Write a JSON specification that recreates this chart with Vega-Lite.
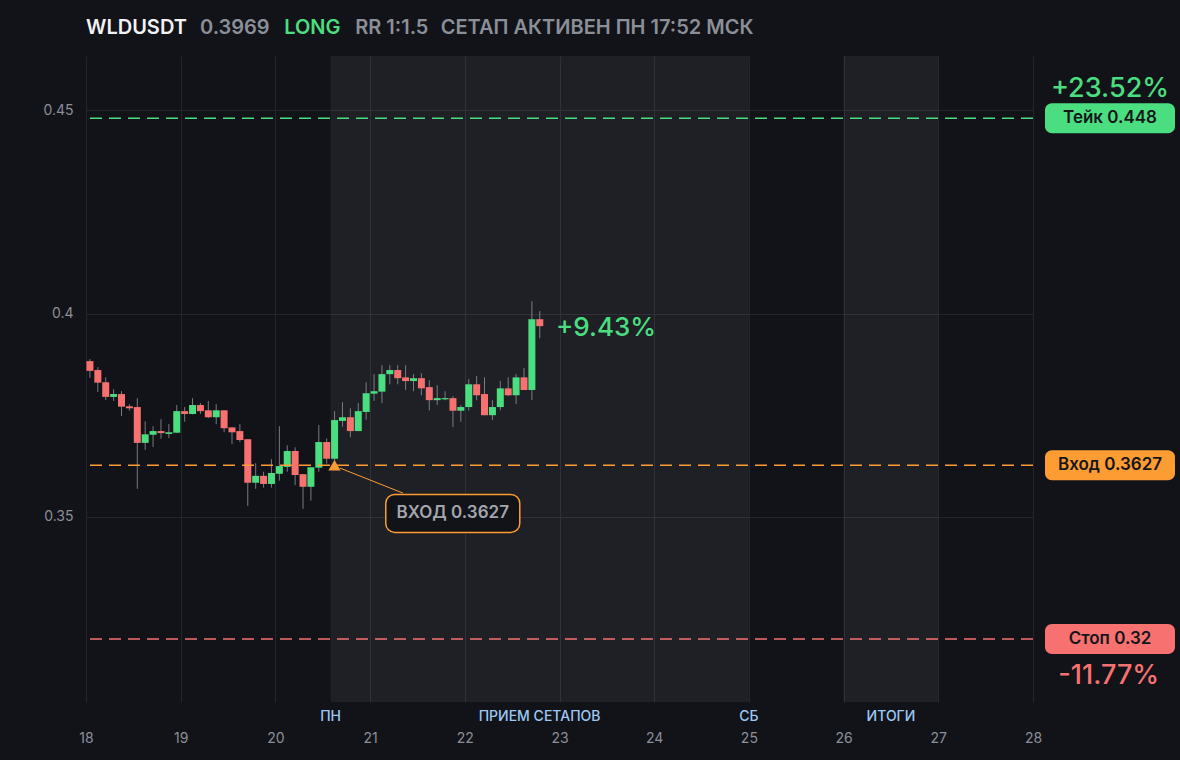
{
  "$schema": "https://vega.github.io/schema/vega-lite/v6.json",
  "width": 947,
  "height": 646,
  "autosize": {"type": "none"},
  "padding": {"left": 86, "top": 56, "right": 147, "bottom": 58},
  "background": "#121318",
  "config": {
    "view": {"stroke": null},
    "font": "Inter",
    "text": {"font": "Inter"},
    "scale": {"continuousPadding": 0},
    "axis": {"grid": true, "gridColor": "#25262b", "gridWidth": 1, "ticks": false, "domain": false, "labelColor": "#8b8f98", "labelFontSize": 14, "labelFont": "Inter"},
    "axisX": {"labelPadding": 29, "labelFlush": false},
    "axisY": {"labelPadding": 13}
  },
  "data": {"values": [{"note": "annotation"}]},
  "datasets": {
    "candles": [
      {"t": 18.0417, "o": 0.3883, "h": 0.3888, "l": 0.3842, "c": 0.3859},
      {"t": 18.125, "o": 0.3861, "h": 0.3868, "l": 0.3807, "c": 0.3830},
      {"t": 18.2083, "o": 0.3831, "h": 0.3843, "l": 0.3787, "c": 0.3795},
      {"t": 18.2917, "o": 0.3795, "h": 0.3814, "l": 0.3785, "c": 0.3802},
      {"t": 18.375, "o": 0.3802, "h": 0.3809, "l": 0.3748, "c": 0.3771},
      {"t": 18.4583, "o": 0.3772, "h": 0.3777, "l": 0.3761, "c": 0.3767},
      {"t": 18.5417, "o": 0.3770, "h": 0.3792, "l": 0.3569, "c": 0.3682},
      {"t": 18.625, "o": 0.3682, "h": 0.3735, "l": 0.3665, "c": 0.3703},
      {"t": 18.7083, "o": 0.3702, "h": 0.3723, "l": 0.3672, "c": 0.3711},
      {"t": 18.7917, "o": 0.3711, "h": 0.3740, "l": 0.3692, "c": 0.3706},
      {"t": 18.875, "o": 0.3704, "h": 0.3728, "l": 0.3694, "c": 0.3708},
      {"t": 18.9583, "o": 0.3707, "h": 0.3775, "l": 0.3706, "c": 0.3760},
      {"t": 19.0417, "o": 0.3760, "h": 0.3770, "l": 0.3734, "c": 0.3753},
      {"t": 19.125, "o": 0.3753, "h": 0.3792, "l": 0.3752, "c": 0.3775},
      {"t": 19.2083, "o": 0.3775, "h": 0.3780, "l": 0.3753, "c": 0.3760},
      {"t": 19.2917, "o": 0.3762, "h": 0.3785, "l": 0.3743, "c": 0.3745},
      {"t": 19.375, "o": 0.3745, "h": 0.3777, "l": 0.3728, "c": 0.3762},
      {"t": 19.4583, "o": 0.3762, "h": 0.3762, "l": 0.3708, "c": 0.3718},
      {"t": 19.5417, "o": 0.3720, "h": 0.3720, "l": 0.3679, "c": 0.3708},
      {"t": 19.625, "o": 0.3711, "h": 0.3728, "l": 0.3684, "c": 0.3689},
      {"t": 19.7083, "o": 0.3691, "h": 0.3691, "l": 0.3527, "c": 0.3584},
      {"t": 19.7917, "o": 0.3584, "h": 0.3632, "l": 0.3569, "c": 0.3601},
      {"t": 19.875, "o": 0.3601, "h": 0.3611, "l": 0.3572, "c": 0.3581},
      {"t": 19.9583, "o": 0.3581, "h": 0.3642, "l": 0.3572, "c": 0.3608},
      {"t": 20.0417, "o": 0.3606, "h": 0.3723, "l": 0.3589, "c": 0.3625},
      {"t": 20.125, "o": 0.3623, "h": 0.3676, "l": 0.3611, "c": 0.3662},
      {"t": 20.2083, "o": 0.3662, "h": 0.3671, "l": 0.3578, "c": 0.3603},
      {"t": 20.2917, "o": 0.3605, "h": 0.3605, "l": 0.3520, "c": 0.3574},
      {"t": 20.375, "o": 0.3574, "h": 0.3622, "l": 0.3540, "c": 0.3622},
      {"t": 20.4583, "o": 0.3621, "h": 0.3726, "l": 0.3611, "c": 0.3684},
      {"t": 20.5417, "o": 0.3684, "h": 0.3693, "l": 0.3631, "c": 0.3643},
      {"t": 20.625, "o": 0.3643, "h": 0.3760, "l": 0.3631, "c": 0.3738},
      {"t": 20.7083, "o": 0.3736, "h": 0.3782, "l": 0.3722, "c": 0.3745},
      {"t": 20.7917, "o": 0.3745, "h": 0.3767, "l": 0.3696, "c": 0.3711},
      {"t": 20.875, "o": 0.3711, "h": 0.3780, "l": 0.3711, "c": 0.3760},
      {"t": 20.9583, "o": 0.3758, "h": 0.3831, "l": 0.3739, "c": 0.3804},
      {"t": 21.0417, "o": 0.3803, "h": 0.3851, "l": 0.3785, "c": 0.3809},
      {"t": 21.125, "o": 0.3808, "h": 0.3873, "l": 0.3780, "c": 0.3851},
      {"t": 21.2083, "o": 0.3851, "h": 0.3873, "l": 0.3826, "c": 0.3861},
      {"t": 21.2917, "o": 0.3861, "h": 0.3873, "l": 0.3826, "c": 0.3841},
      {"t": 21.375, "o": 0.3843, "h": 0.3873, "l": 0.3812, "c": 0.3834},
      {"t": 21.4583, "o": 0.3834, "h": 0.3851, "l": 0.3809, "c": 0.3841},
      {"t": 21.5417, "o": 0.3841, "h": 0.3853, "l": 0.3799, "c": 0.3816},
      {"t": 21.625, "o": 0.3819, "h": 0.3836, "l": 0.3762, "c": 0.3787},
      {"t": 21.7083, "o": 0.3787, "h": 0.3824, "l": 0.3775, "c": 0.3792},
      {"t": 21.7917, "o": 0.3789, "h": 0.3809, "l": 0.3787, "c": 0.3792},
      {"t": 21.875, "o": 0.3792, "h": 0.3797, "l": 0.3721, "c": 0.3761},
      {"t": 21.9583, "o": 0.3761, "h": 0.3775, "l": 0.3734, "c": 0.3770},
      {"t": 22.0417, "o": 0.3770, "h": 0.3839, "l": 0.3761, "c": 0.3826},
      {"t": 22.125, "o": 0.3826, "h": 0.3846, "l": 0.3787, "c": 0.3799},
      {"t": 22.2083, "o": 0.3802, "h": 0.3843, "l": 0.3750, "c": 0.3750},
      {"t": 22.2917, "o": 0.3750, "h": 0.3787, "l": 0.3738, "c": 0.3770},
      {"t": 22.375, "o": 0.3770, "h": 0.3834, "l": 0.3762, "c": 0.3816},
      {"t": 22.4583, "o": 0.3816, "h": 0.3843, "l": 0.3797, "c": 0.3799},
      {"t": 22.5417, "o": 0.3799, "h": 0.3851, "l": 0.3777, "c": 0.3843},
      {"t": 22.625, "o": 0.3843, "h": 0.3866, "l": 0.3812, "c": 0.3812},
      {"t": 22.7083, "o": 0.3812, "h": 0.4030, "l": 0.3787, "c": 0.3986},
      {"t": 22.7917, "o": 0.3986, "h": 0.4006, "l": 0.3939, "c": 0.3969}
    ],
    "levels": [
      {"kind": "take", "price": 0.448, "label": "Тейк 0.448", "pct": "+23.52%"},
      {"kind": "entry", "price": 0.3627, "label": "Вход 0.3627", "pct": ""},
      {"kind": "stop", "price": 0.32, "label": "Стоп 0.32", "pct": "-11.77%"}
    ],
    "bands": [
      {"start": 20.583, "end": 25},
      {"start": 26, "end": 27}
    ],
    "events": [
      {"label": "ПН", "t": 20.583},
      {"label": "ПРИЕМ СЕТАПОВ", "t": 22.79},
      {"label": "СБ", "t": 25},
      {"label": "ИТОГИ", "t": 26.5}
    ]
  },
  "layer": [
    {
      "data": {"name": "bands"},
      "mark": {"type": "rect", "color": "#ffffff", "opacity": 0.06},
      "encoding": {
        "x": {"field": "start", "type": "quantitative", "scale": {"domain": [18, 28], "nice": false, "zero": false, "padding": 0}, "axis": {"title": null, "values": [18, 19, 20, 21, 22, 23, 24, 25, 26, 27, 28], "format": "d"}},
        "x2": {"field": "end"}
      }
    },
    {
      "data": {"name": "candles"},
      "mark": {"type": "rule", "stroke": "#8a8d93", "strokeWidth": 1, "opacity": 0.85},
      "encoding": {
        "x": {"field": "t", "type": "quantitative", "scale": {"domain": [18, 28], "nice": false, "zero": false, "padding": 0}, "axis": {"title": null, "values": [18, 19, 20, 21, 22, 23, 24, 25, 26, 27, 28], "format": "d"}},
        "y": {"field": "l", "type": "quantitative", "scale": {"domain": [0.3045, 0.4633], "nice": false, "zero": false}, "axis": {"title": null, "values": [0.35, 0.4, 0.45], "format": "~g"}},
        "y2": {"field": "h"}
      }
    },
    {
      "data": {"name": "candles"},
      "mark": {"type": "bar", "width": 7},
      "encoding": {
        "x": {"field": "t", "type": "quantitative", "scale": {"domain": [18, 28], "nice": false, "zero": false, "padding": 0}, "axis": {"title": null, "values": [18, 19, 20, 21, 22, 23, 24, 25, 26, 27, 28], "format": "d"}},
        "y": {"field": "o", "type": "quantitative", "scale": {"domain": [0.3045, 0.4633], "nice": false, "zero": false}, "axis": {"title": null, "values": [0.35, 0.4, 0.45], "format": "~g"}},
        "y2": {"field": "c"},
        "color": {"condition": {"test": "datum.c >= datum.o", "value": "#4ade80"}, "value": "#f87171"}
      }
    },
    {
      "data": {"name": "levels"},
      "mark": {"type": "rule", "strokeWidth": 1.5, "strokeDash": [12, 7]},
      "encoding": {
        "y": {"field": "price", "type": "quantitative", "scale": {"domain": [0.3045, 0.4633], "nice": false, "zero": false}, "axis": {"title": null, "values": [0.35, 0.4, 0.45], "format": "~g"}},
        "color": {"field": "kind", "type": "nominal", "scale": {"domain": ["take", "entry", "stop"], "range": ["#4ade80", "#fd9c32", "#f87171"]}, "legend": null}
      }
    },
    {
      "data": {"name": "levels"},
      "mark": {"type": "rect", "width": 130, "height": 30, "cornerRadius": 7, "clip": false},
      "encoding": {
        "x": {"datum": 28.813, "type": "quantitative", "scale": {"domain": [18, 28], "nice": false, "zero": false, "padding": 0}, "axis": {"title": null, "values": [18, 19, 20, 21, 22, 23, 24, 25, 26, 27, 28], "format": "d"}},
        "y": {"field": "price", "type": "quantitative", "scale": {"domain": [0.3045, 0.4633], "nice": false, "zero": false}, "axis": {"title": null, "values": [0.35, 0.4, 0.45], "format": "~g"}},
        "color": {"field": "kind", "type": "nominal", "scale": {"domain": ["take", "entry", "stop"], "range": ["#4ade80", "#fd9c32", "#f87171"]}, "legend": null}
      }
    },
    {
      "data": {"name": "levels"},
      "mark": {"type": "text", "fontSize": 17, "fontWeight": 600, "color": "#15161a", "align": "center", "baseline": "middle", "clip": false},
      "encoding": {
        "x": {"datum": 28.813, "type": "quantitative", "scale": {"domain": [18, 28], "nice": false, "zero": false, "padding": 0}, "axis": {"title": null, "values": [18, 19, 20, 21, 22, 23, 24, 25, 26, 27, 28], "format": "d"}},
        "y": {"field": "price", "type": "quantitative", "scale": {"domain": [0.3045, 0.4633], "nice": false, "zero": false}, "axis": {"title": null, "values": [0.35, 0.4, 0.45], "format": "~g"}},
        "text": {"field": "label"}
      }
    },
    {
      "data": {"name": "levels"},
      "transform": [{"filter": "datum.kind === 'take'"}],
      "mark": {"type": "text", "fontSize": 27, "fontWeight": 500, "color": "#4ade80", "align": "center", "baseline": "middle", "dy": -29, "clip": false},
      "encoding": {
        "x": {"datum": 28.813, "type": "quantitative", "scale": {"domain": [18, 28], "nice": false, "zero": false, "padding": 0}, "axis": {"title": null, "values": [18, 19, 20, 21, 22, 23, 24, 25, 26, 27, 28], "format": "d"}},
        "y": {"field": "price", "type": "quantitative", "scale": {"domain": [0.3045, 0.4633], "nice": false, "zero": false}, "axis": {"title": null, "values": [0.35, 0.4, 0.45], "format": "~g"}},
        "text": {"field": "pct"}
      }
    },
    {
      "data": {"name": "levels"},
      "transform": [{"filter": "datum.kind === 'stop'"}],
      "mark": {"type": "text", "fontSize": 27, "fontWeight": 500, "color": "#f87171", "align": "center", "baseline": "middle", "dy": 37, "clip": false},
      "encoding": {
        "x": {"datum": 28.8, "type": "quantitative", "scale": {"domain": [18, 28], "nice": false, "zero": false, "padding": 0}, "axis": {"title": null, "values": [18, 19, 20, 21, 22, 23, 24, 25, 26, 27, 28], "format": "d"}},
        "y": {"field": "price", "type": "quantitative", "scale": {"domain": [0.3045, 0.4633], "nice": false, "zero": false}, "axis": {"title": null, "values": [0.35, 0.4, 0.45], "format": "~g"}},
        "text": {"field": "pct"}
      }
    },
    {
      "mark": {"type": "rule", "stroke": "#fd9c32", "strokeWidth": 1},
      "encoding": {
        "x": {"datum": 20.682, "type": "quantitative", "scale": {"domain": [18, 28], "nice": false, "zero": false, "padding": 0}, "axis": {"title": null, "values": [18, 19, 20, 21, 22, 23, 24, 25, 26, 27, 28], "format": "d"}},
        "y": {"datum": 0.3620, "type": "quantitative", "scale": {"domain": [0.3045, 0.4633], "nice": false, "zero": false}, "axis": {"title": null, "values": [0.35, 0.4, 0.45], "format": "~g"}},
        "x2": {"datum": 21.347},
        "y2": {"datum": 0.35585}
      }
    },
    {
      "mark": {"type": "point", "shape": "triangle-up", "size": 150, "filled": true, "color": "#fd9c32", "opacity": 1},
      "encoding": {
        "x": {"datum": 20.624, "type": "quantitative", "scale": {"domain": [18, 28], "nice": false, "zero": false, "padding": 0}, "axis": {"title": null, "values": [18, 19, 20, 21, 22, 23, 24, 25, 26, 27, 28], "format": "d"}},
        "y": {"datum": 0.3627, "type": "quantitative", "scale": {"domain": [0.3045, 0.4633], "nice": false, "zero": false}, "axis": {"title": null, "values": [0.35, 0.4, 0.45], "format": "~g"}}
      }
    },
    {
      "mark": {"type": "rect", "width": 134, "height": 38, "cornerRadius": 9, "fill": "#121318", "stroke": "#fd9c32", "strokeWidth": 1.5},
      "encoding": {
        "x": {"datum": 21.873, "type": "quantitative", "scale": {"domain": [18, 28], "nice": false, "zero": false, "padding": 0}, "axis": {"title": null, "values": [18, 19, 20, 21, 22, 23, 24, 25, 26, 27, 28], "format": "d"}},
        "y": {"datum": 0.35086, "type": "quantitative", "scale": {"domain": [0.3045, 0.4633], "nice": false, "zero": false}, "axis": {"title": null, "values": [0.35, 0.4, 0.45], "format": "~g"}}
      }
    },
    {
      "mark": {"type": "text", "fontSize": 17, "fontWeight": 600, "color": "#a3a6ad", "align": "center", "baseline": "middle"},
      "encoding": {
        "x": {"datum": 21.873, "type": "quantitative", "scale": {"domain": [18, 28], "nice": false, "zero": false, "padding": 0}, "axis": {"title": null, "values": [18, 19, 20, 21, 22, 23, 24, 25, 26, 27, 28], "format": "d"}},
        "y": {"datum": 0.35086, "type": "quantitative", "scale": {"domain": [0.3045, 0.4633], "nice": false, "zero": false}, "axis": {"title": null, "values": [0.35, 0.4, 0.45], "format": "~g"}},
        "text": {"value": "ВХОД 0.3627"}
      }
    },
    {
      "mark": {"type": "text", "fontSize": 26, "fontWeight": 500, "color": "#4ade80", "align": "left", "baseline": "middle"},
      "encoding": {
        "x": {"datum": 22.963, "type": "quantitative", "scale": {"domain": [18, 28], "nice": false, "zero": false, "padding": 0}, "axis": {"title": null, "values": [18, 19, 20, 21, 22, 23, 24, 25, 26, 27, 28], "format": "d"}},
        "y": {"datum": 0.3965, "type": "quantitative", "scale": {"domain": [0.3045, 0.4633], "nice": false, "zero": false}, "axis": {"title": null, "values": [0.35, 0.4, 0.45], "format": "~g"}},
        "text": {"value": "+9.43%"}
      }
    },
    {
      "data": {"name": "events"},
      "mark": {"type": "text", "fontSize": 14, "fontWeight": 500, "color": "#9cc8f5", "align": "center", "baseline": "middle", "clip": false},
      "encoding": {
        "x": {"field": "t", "type": "quantitative", "scale": {"domain": [18, 28], "nice": false, "zero": false, "padding": 0}, "axis": {"title": null, "values": [18, 19, 20, 21, 22, 23, 24, 25, 26, 27, 28], "format": "d"}},
        "y": {"datum": 0.30081, "type": "quantitative", "scale": {"domain": [0.3045, 0.4633], "nice": false, "zero": false}, "axis": {"title": null, "values": [0.35, 0.4, 0.45], "format": "~g"}},
        "text": {"field": "label"}
      }
    },
    {
      "mark": {"type": "text", "fontSize": 20, "fontWeight": 600, "color": "#f2f2f4", "align": "left", "baseline": "middle", "clip": false},
      "encoding": {
        "x": {"datum": 18.0, "type": "quantitative", "scale": {"domain": [18, 28], "nice": false, "zero": false, "padding": 0}, "axis": {"title": null, "values": [18, 19, 20, 21, 22, 23, 24, 25, 26, 27, 28], "format": "d"}},
        "y": {"datum": 0.4701, "type": "quantitative", "scale": {"domain": [0.3045, 0.4633], "nice": false, "zero": false}, "axis": {"title": null, "values": [0.35, 0.4, 0.45], "format": "~g"}},
        "text": {"value": "WLDUSDT"}
      }
    },
    {
      "mark": {"type": "text", "fontSize": 20, "fontWeight": 600, "color": "#8b8f98", "align": "left", "baseline": "middle", "clip": false},
      "encoding": {
        "x": {"datum": 19.204, "type": "quantitative", "scale": {"domain": [18, 28], "nice": false, "zero": false, "padding": 0}, "axis": {"title": null, "values": [18, 19, 20, 21, 22, 23, 24, 25, 26, 27, 28], "format": "d"}},
        "y": {"datum": 0.4701, "type": "quantitative", "scale": {"domain": [0.3045, 0.4633], "nice": false, "zero": false}, "axis": {"title": null, "values": [0.35, 0.4, 0.45], "format": "~g"}},
        "text": {"value": "0.3969"}
      }
    },
    {
      "mark": {"type": "text", "fontSize": 20, "fontWeight": 600, "color": "#4ade80", "align": "left", "baseline": "middle", "clip": false},
      "encoding": {
        "x": {"datum": 20.093, "type": "quantitative", "scale": {"domain": [18, 28], "nice": false, "zero": false, "padding": 0}, "axis": {"title": null, "values": [18, 19, 20, 21, 22, 23, 24, 25, 26, 27, 28], "format": "d"}},
        "y": {"datum": 0.4701, "type": "quantitative", "scale": {"domain": [0.3045, 0.4633], "nice": false, "zero": false}, "axis": {"title": null, "values": [0.35, 0.4, 0.45], "format": "~g"}},
        "text": {"value": "LONG"}
      }
    },
    {
      "mark": {"type": "text", "fontSize": 20, "fontWeight": 600, "color": "#8b8f98", "align": "left", "baseline": "middle", "clip": false},
      "encoding": {
        "x": {"datum": 20.843, "type": "quantitative", "scale": {"domain": [18, 28], "nice": false, "zero": false, "padding": 0}, "axis": {"title": null, "values": [18, 19, 20, 21, 22, 23, 24, 25, 26, 27, 28], "format": "d"}},
        "y": {"datum": 0.4701, "type": "quantitative", "scale": {"domain": [0.3045, 0.4633], "nice": false, "zero": false}, "axis": {"title": null, "values": [0.35, 0.4, 0.45], "format": "~g"}},
        "text": {"value": "RR 1:1.5"}
      }
    },
    {
      "mark": {"type": "text", "fontSize": 20, "fontWeight": 600, "color": "#8b8f98", "align": "left", "baseline": "middle", "clip": false},
      "encoding": {
        "x": {"datum": 21.745, "type": "quantitative", "scale": {"domain": [18, 28], "nice": false, "zero": false, "padding": 0}, "axis": {"title": null, "values": [18, 19, 20, 21, 22, 23, 24, 25, 26, 27, 28], "format": "d"}},
        "y": {"datum": 0.4701, "type": "quantitative", "scale": {"domain": [0.3045, 0.4633], "nice": false, "zero": false}, "axis": {"title": null, "values": [0.35, 0.4, 0.45], "format": "~g"}},
        "text": {"value": "СЕТАП АКТИВЕН ПН 17:52 МСК"}
      }
    }
  ]
}
